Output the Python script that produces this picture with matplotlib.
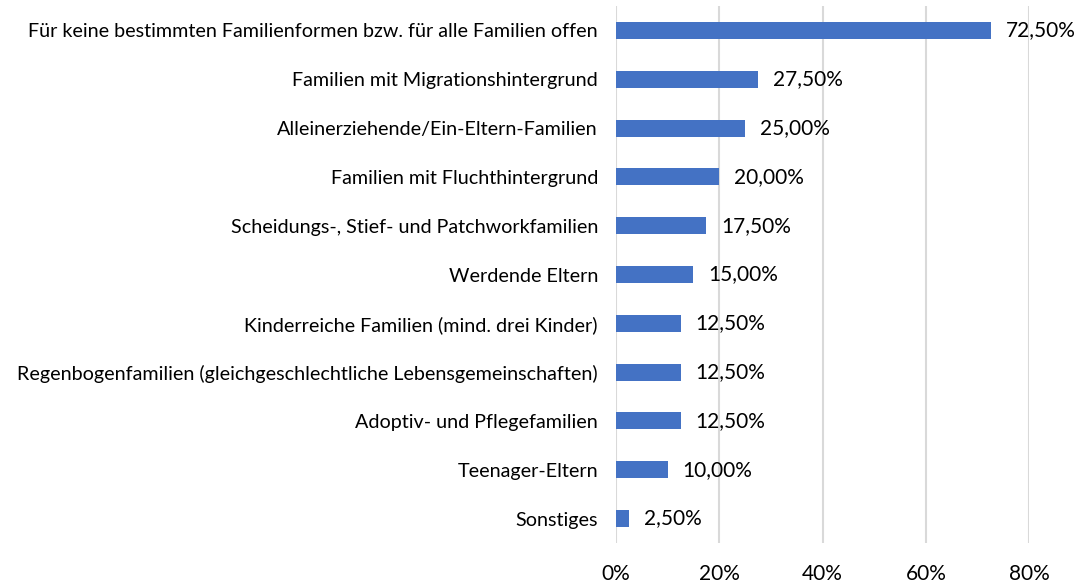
import matplotlib
matplotlib.use("Agg")
import matplotlib.pyplot as plt

categories = [
    "Für keine bestimmten Familienformen bzw. für alle Familien offen",
    "Familien mit Migrationshintergrund",
    "Alleinerziehende/Ein-Eltern-Familien",
    "Familien mit Fluchthintergrund",
    "Scheidungs-, Stief- und Patchworkfamilien",
    "Werdende Eltern",
    "Kinderreiche Familien (mind. drei Kinder)",
    "Regenbogenfamilien (gleichgeschlechtliche Lebensgemeinschaften)",
    "Adoptiv- und Pflegefamilien",
    "Teenager-Eltern",
    "Sonstiges",
]
values = [72.5, 27.5, 25.0, 20.0, 17.5, 15.0, 12.5, 12.5, 12.5, 10.0, 2.5]
xticks = [0, 20, 40, 60, 80]

plt.rcParams['font.family'] = ['Lato', 'DejaVu Sans']

fig = plt.figure(figsize=(10.86, 5.83), dpi=100)
ax = fig.add_axes([616/1086, 1-543/583, (1029.3-616)/1086, (543-6)/583])

y = list(range(len(categories)))
ax.barh(y, values, height=0.35, color="#4472C4", zorder=3)
ax.set_ylim(len(categories)-0.5, -0.5)
ax.set_xlim(0, 80)
ax.set_xticks(xticks)
ax.set_xticklabels([f"{t}%" for t in xticks], fontsize=15, color="#000000")
ax.set_yticks(y)
ax.set_yticklabels(categories, fontsize=14.2, color="#000000")
ax.tick_params(axis='both', length=0)
ax.tick_params(axis='x', pad=15)
ax.tick_params(axis='y', pad=13)
for s in ax.spines.values():
    s.set_visible(False)
ax.grid(axis='x', color="#D9D9D9", linewidth=1.5, zorder=0)
ax.set_axisbelow(True)

for yi, v in zip(y, values):
    ax.annotate(f"{v:.2f}".replace(".", ",") + "%", (v, yi), xytext=(15, 0),
                textcoords="offset pixels",
                va="center", ha="left", fontsize=15, color="#000000")

fig.savefig("out.png", dpi=100)
